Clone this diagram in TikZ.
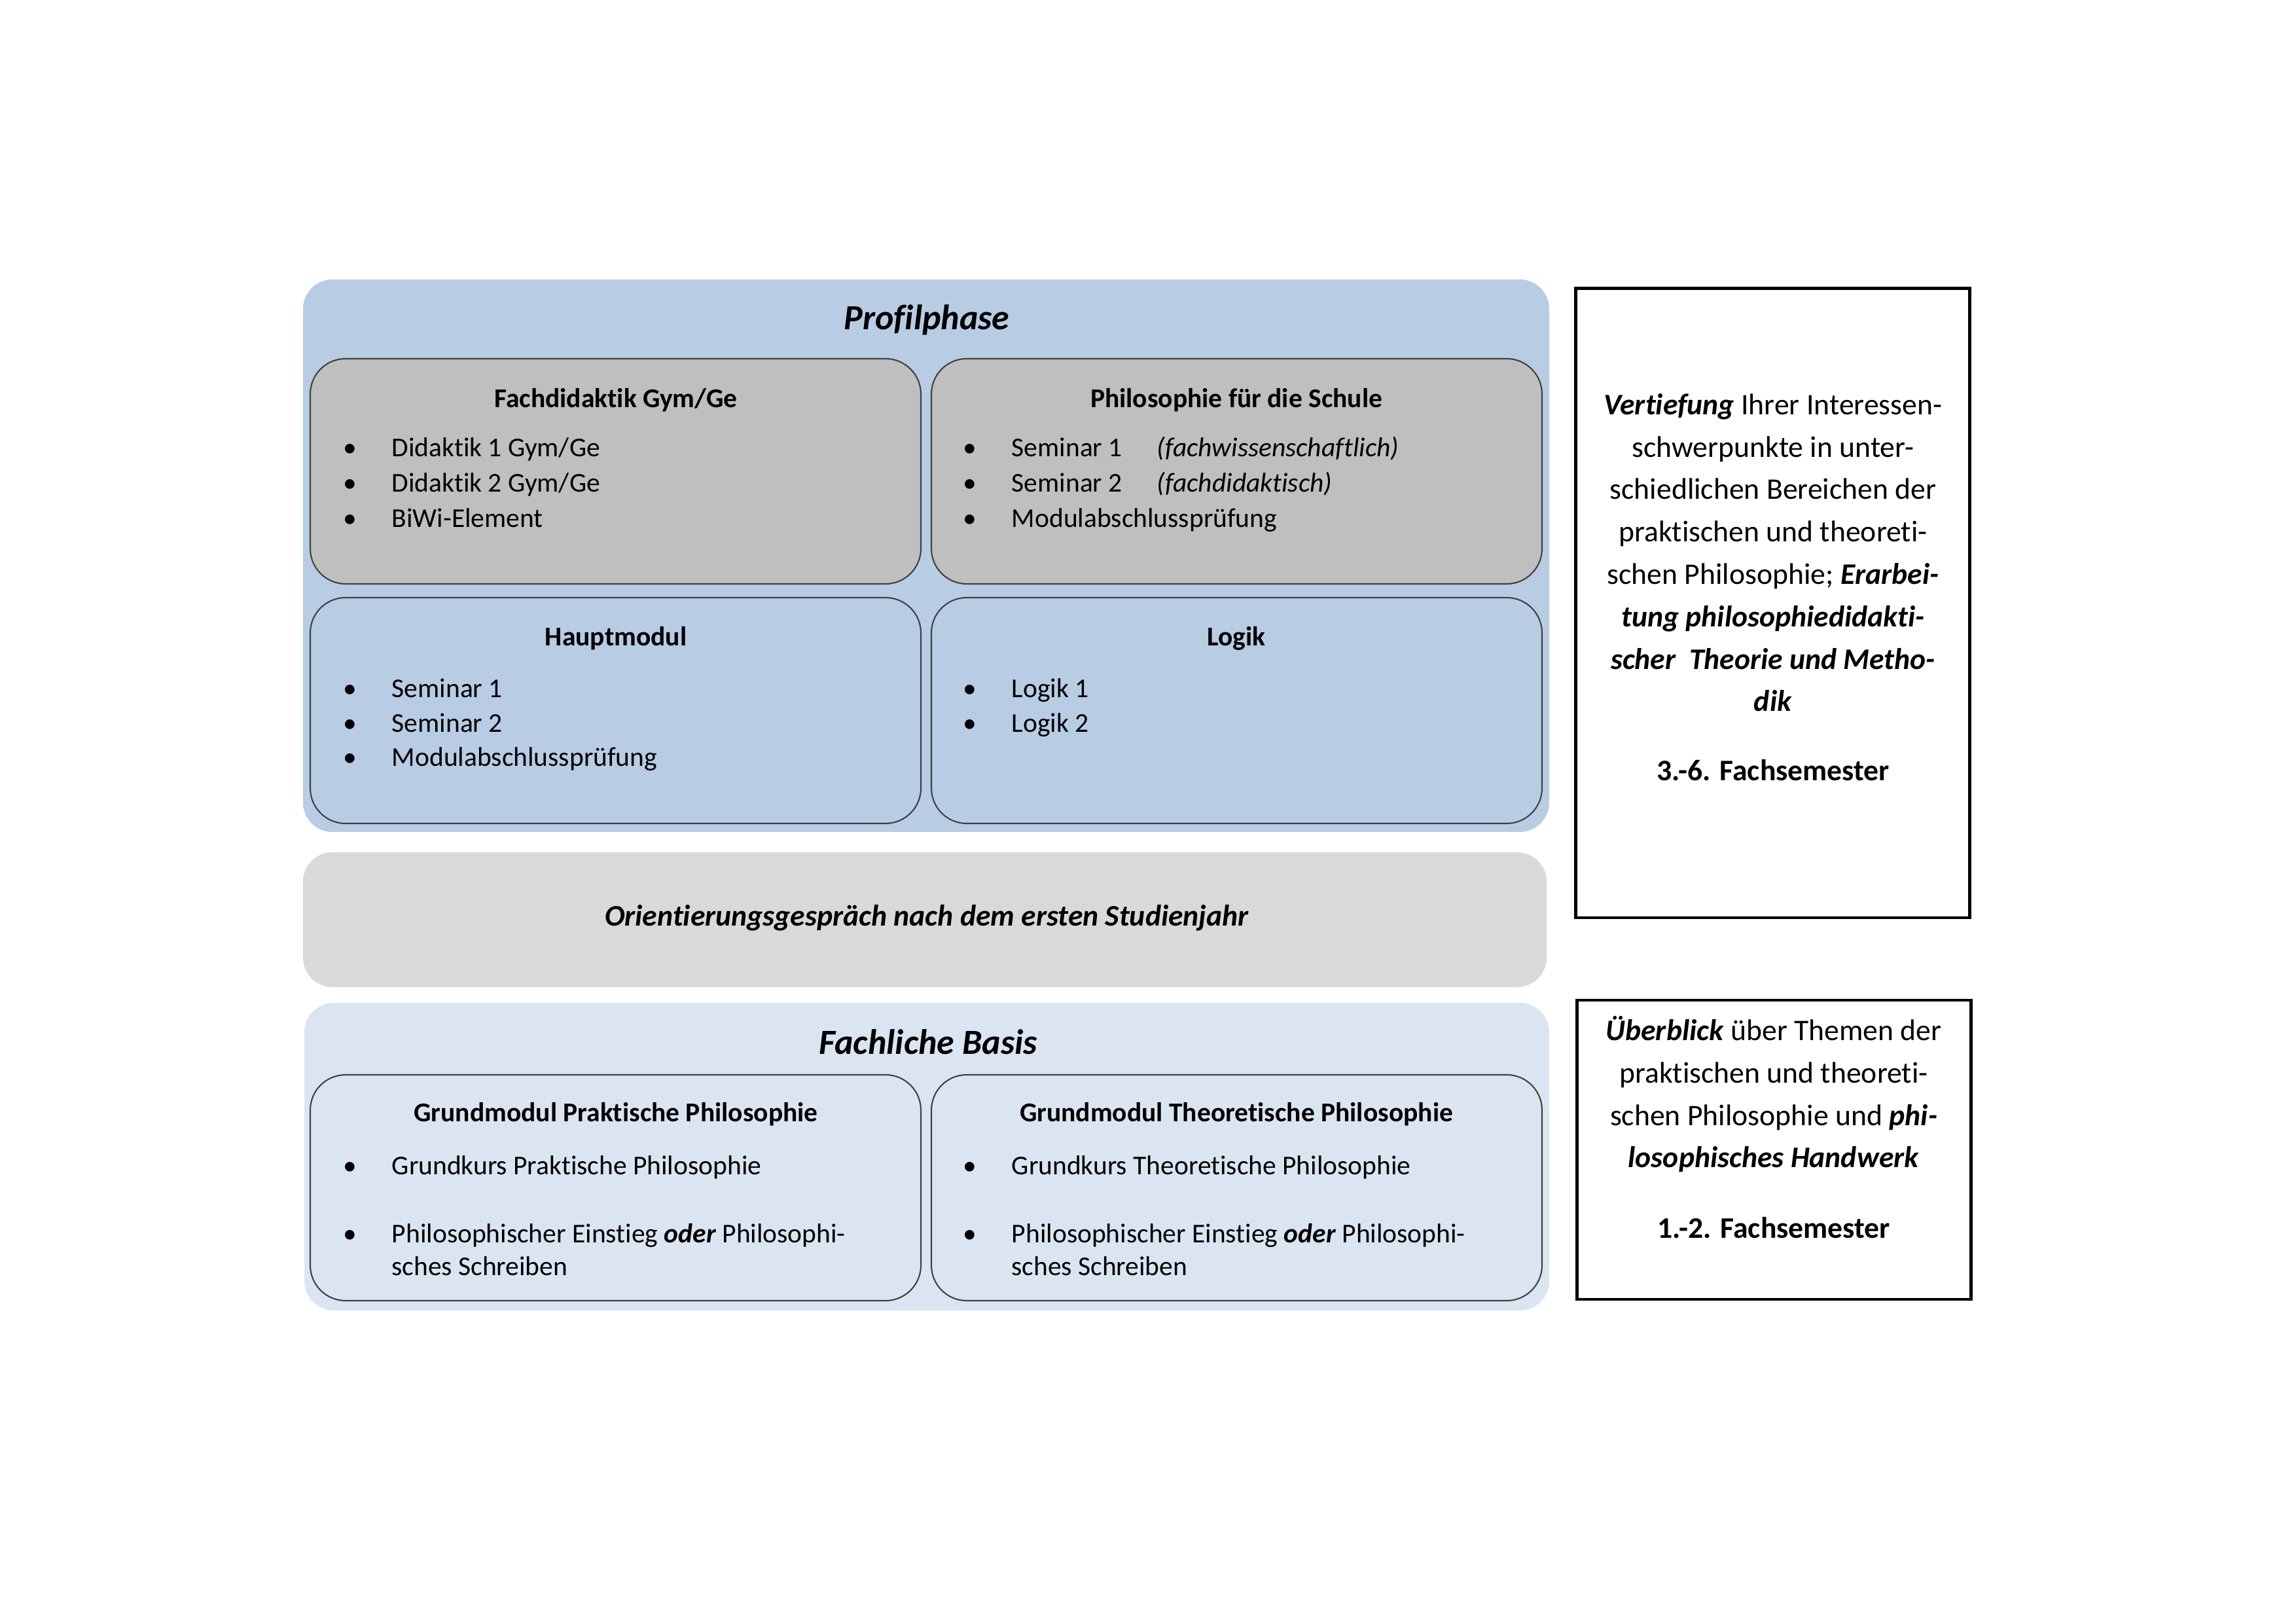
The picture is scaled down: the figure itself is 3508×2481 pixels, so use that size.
\documentclass[tikz,border=0pt]{standalone}
\usepackage{fontspec}
\setmainfont{Carlito}[Ligatures=NoCommon]
\tikzset{every picture/.style={line width=0.75pt}}
\definecolor{profilblue}{RGB}{184,204,228}
\definecolor{basisblue}{RGB}{219,229,241}
\definecolor{modgray}{RGB}{191,191,191}
\definecolor{oriegray}{RGB}{217,217,217}
\newcommand{\bul}{\makebox[0pt]{\textbullet}\hspace{15.5pt}}
\newcommand{\bi}[1]{\textbf{\textit{#1}}}
\tikzset{
  outerbox/.style={rounded corners=10.8pt},
  modbox/.style={draw=black!75, line width=0.5pt, rounded corners=13pt},
  sidebox/.style={draw=black, line width=1.2pt},
  modtitle/.style={anchor=base, inner sep=0pt, font=\fontsize{10}{12.9}\selectfont\bfseries},
  item/.style={anchor=base west, inner sep=0pt, font=\fontsize{10}{12.9}\selectfont},
  phasetitle/.style={anchor=base, inner sep=0pt, font=\fontsize{13}{16}\selectfont\bfseries\itshape},
  sidetext/.style={align=center, inner sep=0pt, font=\fontsize{11}{15.6}\selectfont}
}
\begin{document}
\begin{tikzpicture}[x=0.2409pt,y=0.2409pt,yscale=-1,xscale=1]
	\useasboundingbox (0,0) rectangle (3508,2481);

	%Shape: Rounded Rect (Profilphase)
	\fill [outerbox, profilblue] (463,427) rectangle (2367,1271);
	\node [phasetitle] (profil) at (1416,504) {Profilphase};
	%Shape: Rounded Rect (Module)
	\draw [modbox, fill=modgray] (474,548) rectangle (1407,892);
	\draw [modbox, fill=modgray] (1423,548) rectangle (2356,892);
	\draw [modbox, fill=profilblue] (474,913) rectangle (1407,1258);
	\draw [modbox, fill=profilblue] (1423,913) rectangle (2356,1258);

	%Shape: Rounded Rect (Orientierung)
	\fill [outerbox, oriegray] (463,1302) rectangle (2363,1508);
	\node [anchor=base, inner sep=0pt, font=\fontsize{11}{13.4}\selectfont\bfseries\itshape] (orient) at (1416,1415) {Orientierungsgespräch nach dem ersten Studienjahr};

	%Shape: Rounded Rect (Fachliche Basis)
	\fill [outerbox, basisblue] (465,1532) rectangle (2367,2002);
	\node [phasetitle] (basis) at (1418,1610) {Fachliche Basis};
	\draw [modbox, fill=basisblue] (474,1642) rectangle (1407,1987);
	\draw [modbox, fill=basisblue] (1423,1642) rectangle (2356,1987);

	%Shape: Rectangle (Semester)
	\draw [sidebox] (2407,441) rectangle (3009,1402);
	\draw [sidebox] (2409,1528) rectangle (3011,1985);

	% Text Node
	\node [modtitle] (fdTitle) at (941,623) {Fachdidaktik Gym/Ge};
	\node [item] (fd1) at (533,698) {\bul Didaktik 1 Gym/Ge};
	\node [item] (fd2) at (533,752) {\bul Didaktik 2 Gym/Ge};
	\node [item] (fd3) at (533,806) {\bul BiWi-Element};
	% Text Node
	\node [modtitle] (psTitle) at (1889,623) {Philosophie für die Schule};
	\node [item] (ps1) at (1480,698) {\bul\makebox[53.4pt][l]{Seminar 1}\textit{(fachwissenschaftlich)}};
	\node [item] (ps2) at (1480,752) {\bul\makebox[53.4pt][l]{Seminar 2}\textit{(fachdidaktisch)}};
	\node [item] (ps3) at (1480,806) {\bul Modulabschlussprüfung};
	% Text Node
	\node [modtitle] (hmTitle) at (941,987) {Hauptmodul};
	\node [item] (hm1) at (533,1066) {\bul Seminar 1};
	\node [item] (hm2) at (533,1119) {\bul Seminar 2};
	\node [item] (hm3) at (533,1171) {\bul Modulabschlussprüfung};
	% Text Node
	\node [modtitle] (lgTitle) at (1889,987) {Logik};
	\node [item] (lg1) at (1480,1066) {\bul Logik 1};
	\node [item] (lg2) at (1480,1119) {\bul Logik 2};
	% Text Node
	\node [modtitle] (gpTitle) at (941,1713) {Grundmodul Praktische Philosophie};
	\node [item] (gp1) at (533,1794) {\bul Grundkurs Praktische Philosophie};
	\node [item] (gp2) at (533,1898) {\bul Philosophischer Einstieg \bi{oder} Philosophi-};
	\node [item] (gp2b) at (597,1948) {sches Schreiben};
	% Text Node
	\node [modtitle] (gtTitle) at (1889,1713) {Grundmodul Theoretische Philosophie};
	\node [item] (gt1) at (1480,1794) {\bul Grundkurs Theoretische Philosophie};
	\node [item] (gt2) at (1480,1898) {\bul Philosophischer Einstieg \bi{oder} Philosophi-};
	\node [item] (gt2b) at (1544,1948) {sches Schreiben};

	% Text Node
	\node [sidetext] (vertiefung) at (2709,897) {\bi{Vertiefung} Ihrer Interessen-\\
		schwerpunkte in unter-\\
		schiedlichen Bereichen der\\
		praktischen und theoreti-\\
		schen Philosophie; \bi{Erarbei-}\\
		\bi{tung philosophiedidakti-}\\
		\bi{scher~ Theorie und Metho-}\\
		\bi{dik}\\[9.8pt]
		\textbf{3.-6. Fachsemester}};
	% Text Node
	\node [sidetext] (ueberblick) at (2710,1722) {\bi{Überblick} über Themen der\\
		praktischen und theoreti-\\
		schen Philosophie und \bi{phi-}\\
		\bi{losophisches Handwerk}\\[10.3pt]
		\textbf{1.-2. Fachsemester}};

\end{tikzpicture}
\end{document}
